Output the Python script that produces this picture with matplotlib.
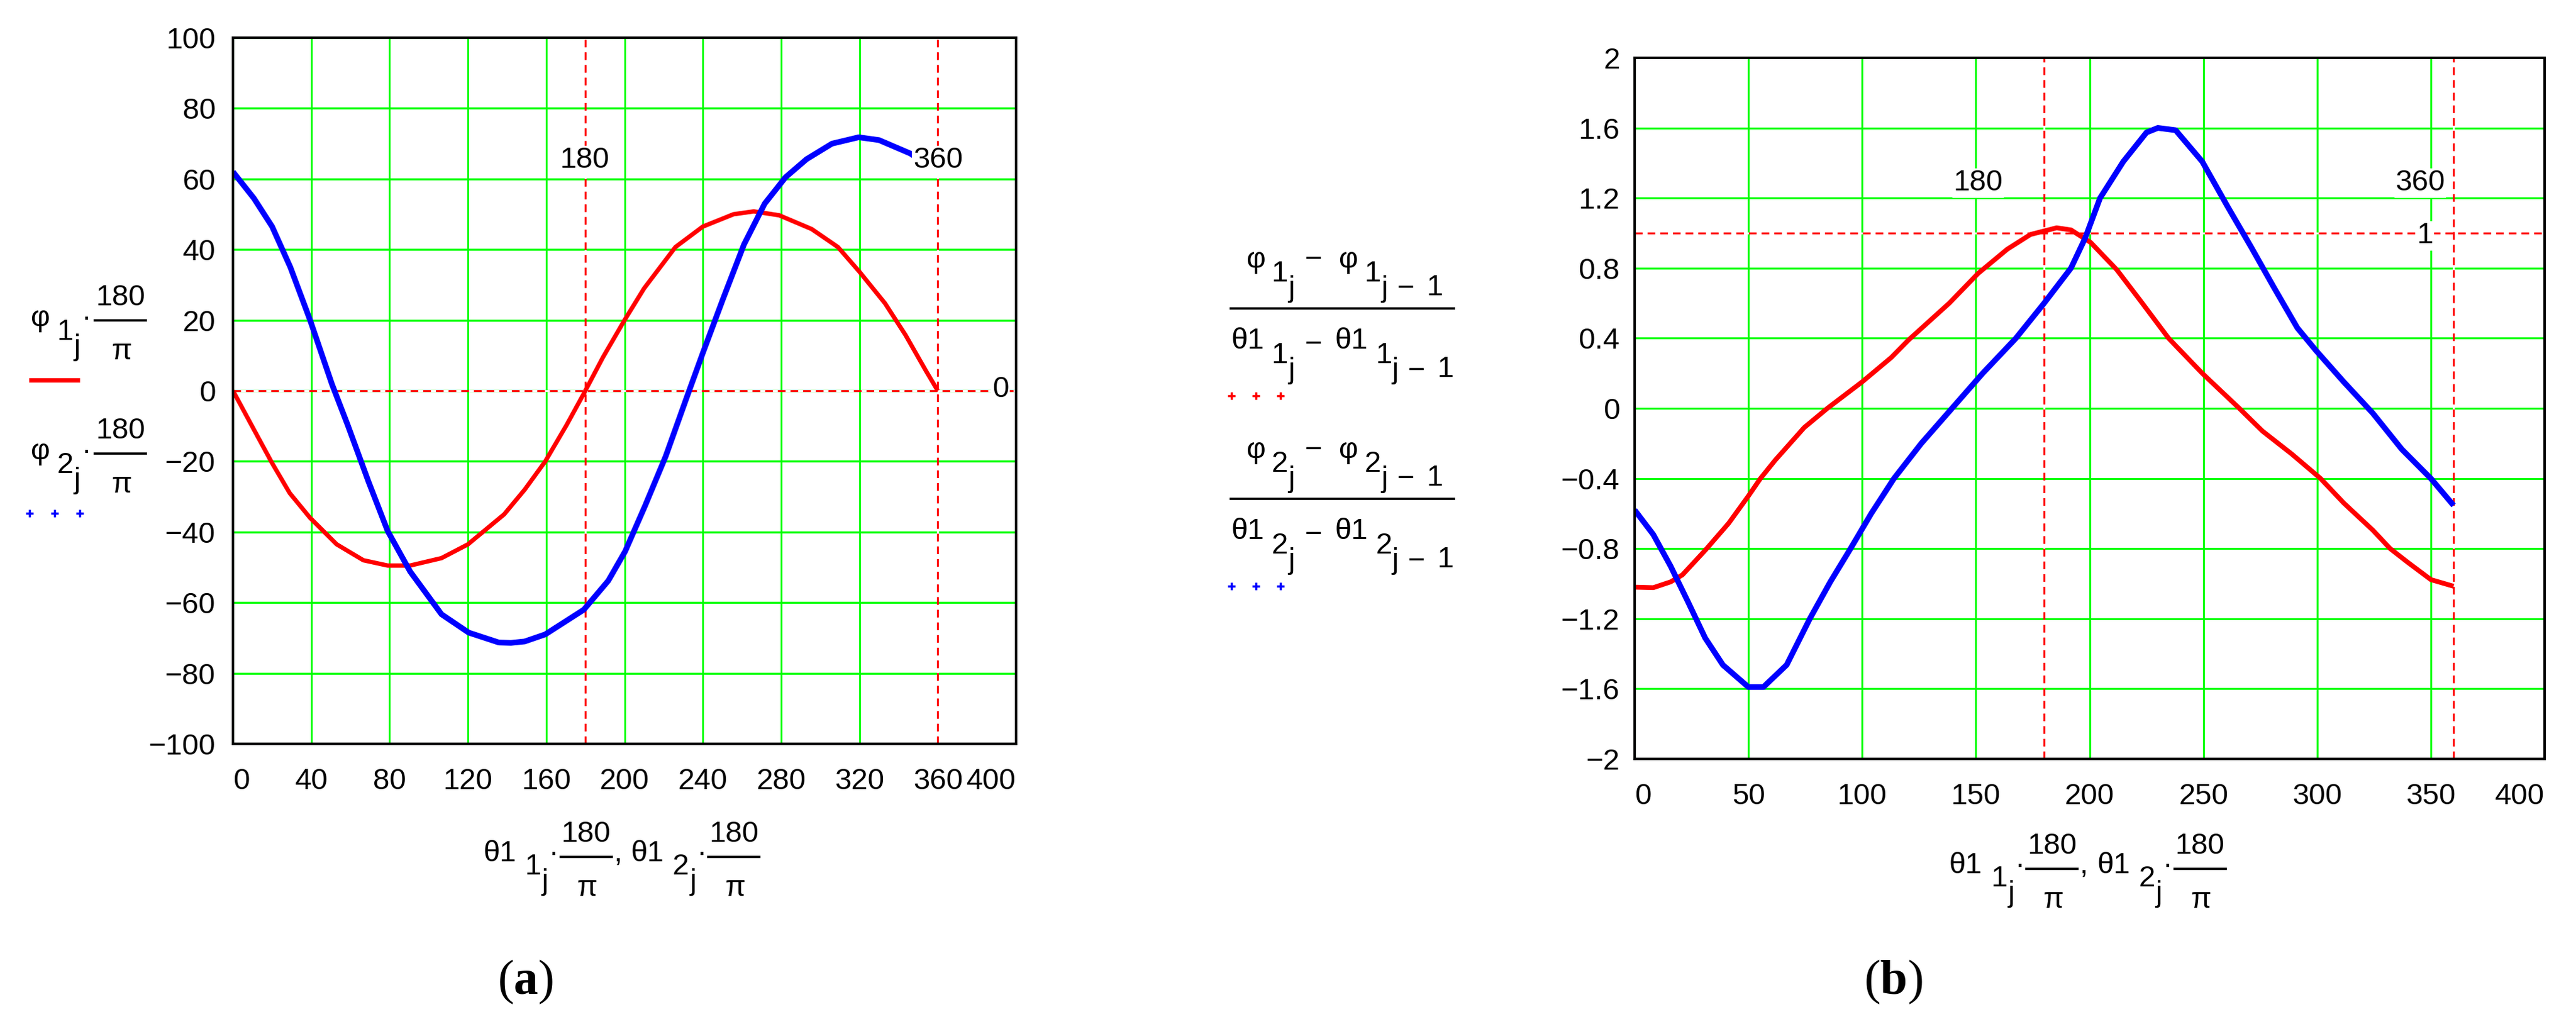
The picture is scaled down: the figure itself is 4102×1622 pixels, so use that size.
import numpy as np
import matplotlib
matplotlib.use("Agg")
import matplotlib.pyplot as plt

# fonts: MathCad-like sans for ticks and labels, serif for the panel tags
plt.rcParams['font.family'] = ['Liberation Sans', 'DejaVu Sans']
plt.rcParams['mathtext.fontset'] = 'custom'
plt.rcParams['mathtext.bf'] = 'Liberation Serif:bold'

W, H = 4102, 1622

# ---- panel (a): phi1, phi2 in degrees vs theta1 in degrees ----
a_red_x = [0, 10.7, 20, 29, 39.4, 53, 66.6, 79, 90.5, 106.5, 120, 138.5, 149, 159.5,
           170.4, 179.2, 189, 200, 210, 226, 240, 255.7, 266, 279, 295.6, 309, 320,
           333, 343.5, 354, 360]
a_red_y = [0, -11, -20.5, -29, -36, -43.5, -48, -49.5, -49.5, -47.4, -43.5, -35, -28, -20,
           -9.7, -0.8, 9.5, 20, 29, 40.7, 46.5, 50, 50.8, 49.7, 45.8, 40.7, 33.7,
           24.8, 15.8, 5.6, 0]

a_blue_x = [0, 10.7, 20, 29.3, 39.4, 50.6, 58.6, 69.2, 79, 90.5, 106.5, 120.4, 135.8, 142,
            149, 159.5, 179.2, 191.7, 200.3, 210.4, 221, 231.7, 240, 250.3, 261, 271.6,
            282.3, 293, 306, 319.6, 330, 346, 360]
a_blue_y = [62, 54.5, 46.5, 35, 20, 1.8, -9.7, -25.7, -39.7, -51.2, -63.3, -68.5, -71.3, -71.4,
            -71, -69, -62, -53.8, -45.5, -32.7, -18.6, -2, 10.7, 26, 41.4, 53,
            60.5, 65.6, 70, 71.8, 71, 67.2, 62]

a_xticks = [0, 40, 80, 120, 160, 200, 240, 280, 320, 360, 400]
a_yticks = [-100, -80, -60, -40, -20, 0, 20, 40, 60, 80, 100]

# ---- panel (b): finite-difference derivatives ----
b_red_x = [0, 8.2, 15.8, 21, 31, 41.3, 50, 55.3, 61.7, 74.5, 84.7, 100, 112.8, 120.4, 138.3,
           151, 163.8, 174, 185.5, 191.8, 200.5, 212, 222.4, 234.7, 249.5, 265.8, 276, 288.8,
           301.5, 311.7, 324.5, 332.1, 340, 350, 360]
b_red_y = [-1.02, -1.023, -0.99, -0.95, -0.81, -0.656, -0.50, -0.40, -0.297, -0.11, 0.0,
           0.151, 0.29, 0.39, 0.6, 0.77, 0.908, 0.992, 1.03, 1.018, 0.946, 0.79, 0.613,
           0.40, 0.2, 0.0, -0.13, -0.26, -0.40, -0.54, -0.695, -0.80, -0.88, -0.977, -1.015]

b_blue_x = [0, 8.2, 15.8, 23.5, 31, 38.8, 50, 56.6, 66.8, 77, 86, 94.9, 104, 114, 126,
            139.5, 153, 167.6, 180, 191.8, 198, 204.6, 214.8, 225, 230, 237.8, 249.5,
            260.7, 271, 281, 291.3, 299.5, 311.7, 324.5, 337.2, 350, 360]
b_blue_y = [-0.58, -0.72, -0.9, -1.105, -1.31, -1.464, -1.59, -1.59, -1.464, -1.2, -0.99,
            -0.8, -0.6, -0.4, -0.2, 0.0, 0.2, 0.4, 0.6, 0.8, 0.97, 1.2, 1.408, 1.574, 1.6,
            1.587, 1.408, 1.15, 0.92, 0.69, 0.459, 0.33, 0.151, -0.028, -0.233, -0.4, -0.554]

b_xticks = [0, 50, 100, 150, 200, 250, 300, 350, 400]
b_yticks = [-2, -1.6, -1.2, -0.8, -0.4, 0, 0.4, 0.8, 1.2, 1.6, 2]

RED, BLUE, GREEN = '#ff0000', '#0000ff', '#00ff00'
FS = 34


def fmt(v):
    return ('%g' % round(v, 2)).replace('-', '\u2212')


def px_box(x0, y0, x1, y1):
    return [x0 / W, 1 - y1 / H, (x1 - x0) / W, (y1 - y0) / H]


def setup(ax, xt, yt, ypad, gw_x, gw_y):
    ax.set_xlim(xt[0], xt[-1])
    ax.set_ylim(yt[0], yt[-1])
    ax.set_xticks(xt)
    ax.set_yticks(yt)
    ax.set_xticklabels([fmt(v) for v in xt], fontsize=FS)
    ax.set_yticklabels([fmt(v) for v in yt], fontsize=FS)
    ax.tick_params(axis='x', length=0, pad=27)
    ax.tick_params(axis='y', length=0, pad=ypad)
    xl = ax.get_xticklabels()
    xl[0].set_horizontalalignment('left')
    xl[-1].set_horizontalalignment('right')
    ax.grid(axis='x', color=GREEN, lw=gw_x, zorder=0)
    ax.grid(axis='y', color=GREEN, lw=gw_y, zorder=0)
    ax.set_axisbelow(True)
    for s in ax.spines.values():
        s.set_linewidth(2.8)
        s.set_color('black')
        s.set_zorder(5)


def marker_v(ax, x):
    ax.axvline(x, color='white', lw=2.2, zorder=1)
    ax.axvline(x, color=RED, lw=2.2, ls=(0, (4, 2.6)), zorder=1.1)


def marker_h(ax, y):
    ax.axhline(y, color='white', lw=2.2, zorder=1)
    ax.axhline(y, color=RED, lw=2.2, ls=(0, (4, 2.6)), zorder=1.1)


def mlabel(ax, x, y, s):
    ax.text(x, y, s, fontsize=FS, ha='center', va='center', zorder=4,
            bbox=dict(facecolor='white', edgecolor='none', pad=1))


fig = plt.figure(figsize=(W / 100, H / 100), dpi=100)

# panel (a)
ax1 = fig.add_axes(px_box(371, 60, 1618, 1184))
setup(ax1, a_xticks, a_yticks, 20, 2.0, 2.4)
marker_v(ax1, 180)
marker_v(ax1, 360)
marker_h(ax1, 0)
ax1.plot(a_red_x, a_red_y, color=RED, lw=5, zorder=2, solid_capstyle='butt')
ax1.plot(a_blue_x, a_blue_y, color=BLUE, lw=6.5, zorder=2.1, solid_capstyle='butt')
mlabel(ax1, 179.5, 65.3, '180')
mlabel(ax1, 360, 65.3, '360')
mlabel(ax1, 392, 0.4, '0')

# panel (b)
ax2 = fig.add_axes(px_box(2603, 92, 4052, 1208))
setup(ax2, b_xticks, b_yticks, 17, 2.2, 2.2)
marker_v(ax2, 180)
marker_v(ax2, 360)
marker_h(ax2, 1)
ax2.plot(b_red_x, b_red_y, color=RED, lw=5.5, zorder=2, solid_capstyle='butt')
ax2.plot(b_blue_x, b_blue_y, color=BLUE, lw=6.5, zorder=2.1, solid_capstyle='butt')
mlabel(ax2, 151, 1.286, '180')
mlabel(ax2, 345.4, 1.286, '360')
mlabel(ax2, 347.5, 0.985, '1')

# overlay in pixel coordinates (y down) for the MathCad-style labels
ov = fig.add_axes([0, 0, 1, 1])
ov.set_xlim(0, W)
ov.set_ylim(H, 0)
ov.axis('off')


def put(s, x, y, size=FS):
    ov.text(x, y, s, fontsize=size, ha='center', va='baseline')


def bar(x0, x1, y):
    ov.plot([x0, x1], [y, y], color='black', lw=2.6, solid_capstyle='butt')


def deg_frac(x0, x1, y):
    # 180 / pi fraction, bar at y
    xc = (x0 + x1) / 2
    bar(x0, x1, y)
    put('180', xc, y - 24)
    put('\u03c0', xc + 2, y + 62)


def ylab(sub, y):
    # phi sub_j * 180/pi, bar at y
    put('\u03c6', 64.5, y + 9)
    put(sub, 103.5, y + 31)
    put('j', 122, y + 55)
    put('\u00b7', 137, y + 9)
    deg_frac(149, 234, y)


def xlab(x0, y):
    # theta1 1_j * 180/pi, theta1 2_j * 180/pi
    for dx, sub in [(0, '1'), (235.5, '2')]:
        put('\u03b81', x0 + dx, y + 7)
        put(sub, x0 + dx + 53, y + 28)
        put('j', x0 + dx + 72, y + 52)
        put('\u00b7', x0 + dx + 86, y + 7)
        deg_frac(x0 + dx + 95, x0 + dx + 180, y)
    put(',', x0 + 188.5, y + 7)


def diff_frac(sub, y):
    # (phi sub_j - phi sub_j-1) / (theta1 sub_j - theta1 sub_j-1), bar at y
    bar(1958, 2317, y)
    put('\u03c6', 2000, y - 65)
    put(sub, 2038, y - 43)
    put('j', 2056, y - 19)
    put('\u2212', 2092, y - 65)
    put('\u03c6', 2147, y - 65)
    put(sub, 2186, y - 43)
    put('j', 2204, y - 19)
    put('\u2212', 2238.5, y - 19)
    put('1', 2284.5, y - 21)
    put('\u03b81', 1987, y + 64)
    put(sub, 2038, y + 87)
    put('j', 2056, y + 111)
    put('\u2212', 2092, y + 70)
    put('\u03b81', 2152, y + 64)
    put(sub, 2204, y + 87)
    put('j', 2221, y + 111)
    put('\u2212', 2255.5, y + 112)
    put('1', 2302, y + 109)


def plus_marks(y, color):
    ov.plot([1961, 2000, 2039], [y, y, y], ls='none', marker='+', ms=8, mew=2.5, color=color)


# panel (a) trace labels and legend samples
ylab('1', 510)
ylab('2', 722)
ov.plot([46, 127], [605, 605], color=RED, lw=5, solid_capstyle='butt')
ov.plot([47, 87, 127], [817, 817, 817], ls='none', marker='+', ms=8, mew=2.5, color=BLUE)
xlab(795.5, 1364)

# panel (b) trace labels and legend samples
diff_frac('1', 490.6)
diff_frac('2', 793.6)
plus_marks(630, RED)
plus_marks(933, BLUE)
xlab(3130, 1383)

ov.text(837, 1563, r'($\mathbf{a}$)', fontsize=56, family='Liberation Serif', ha='center', va='center')
ov.text(3015, 1563, r'($\mathbf{b}$)', fontsize=56, family='Liberation Serif', ha='center', va='center')

fig.savefig('out.png', dpi=100)
